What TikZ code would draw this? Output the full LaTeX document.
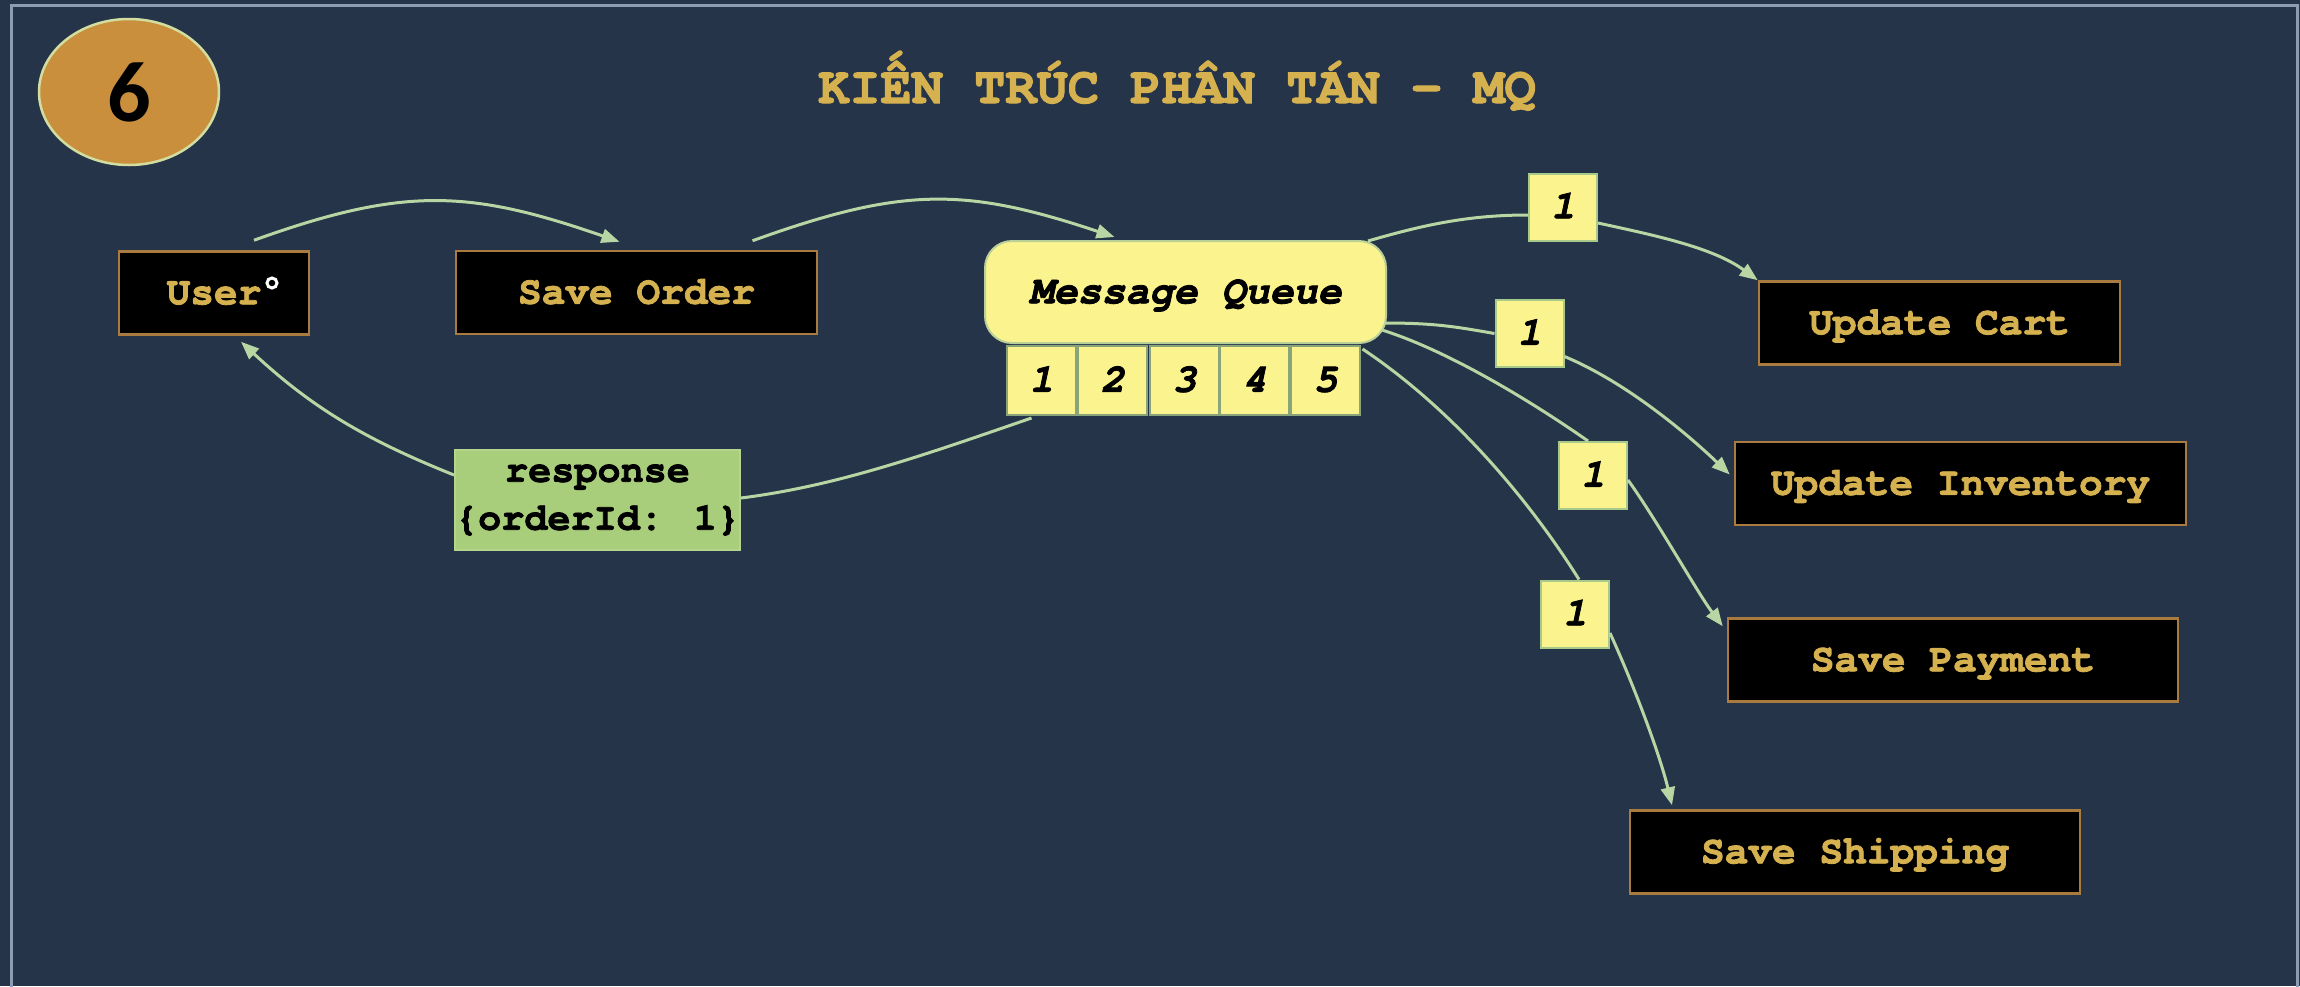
\documentclass[tikz,border=0pt]{standalone}
\usepackage{fontspec}
\usetikzlibrary{shapes.geometric,arrows.meta}
\newfontfamily\monof{texgyrecursor}[Extension=.otf,UprightFont=*-regular,BoldFont=*-bold,ItalicFont=*-italic,BoldItalicFont=*-bolditalic,BoldFeatures={FakeBold=2},BoldItalicFeatures={FakeBold=2}]
\newfontfamily\badgef{Carlito}
\definecolor{bg}{HTML}{253449}
\definecolor{framec}{HTML}{8D9CB3}
\definecolor{boxb}{HTML}{A97B3E}
\definecolor{gold}{HTML}{D5B14F}
\definecolor{yel}{HTML}{FBF48E}
\definecolor{mqb}{HTML}{B9D197}
\definecolor{cellb}{HTML}{8AA47A}
\definecolor{lblb}{HTML}{A7C98A}
\definecolor{respf}{HTML}{A9CE7B}
\definecolor{respb}{HTML}{B5D48E}
\definecolor{badgefill}{HTML}{C98F3D}
\definecolor{badgeb}{HTML}{D2DDA0}
\definecolor{arr}{HTML}{B7D6A3}
\tikzset{
  svc/.style={draw=boxb, fill=black, line width=2.5pt, minimum height=83pt, inner sep=0pt,
    text=gold, font=\monof\bfseries\fontsize{39.5}{44}\selectfont, text height=22.5pt, text depth=0pt},
  cellbox/.style={draw=cellb, fill=yel, line width=2pt, minimum width=69pt, minimum height=69pt, inner sep=0pt,
    font=\monof\bfseries\itshape\fontsize{40}{44}\selectfont, text height=22.5pt, text depth=0pt},
  numlbl/.style={draw=lblb, fill=yel, line width=2pt, minimum width=68pt, minimum height=67pt, inner sep=0pt,
    font=\monof\bfseries\itshape\fontsize{40}{44}\selectfont, text height=22.5pt, text depth=0pt},
  conn/.style={draw=arr, line width=3pt},
  tip/.style={-{Triangle[length=18pt,width=14pt]}},
}
\begin{document}
\begin{tikzpicture}[x=1pt,y=-1pt]
\useasboundingbox (0,0) rectangle (2300,986);
\fill[bg] (0,0) rectangle (2300,986);
\draw[framec, line width=3pt] (11,990) -- (11,5) -- (2297,5) -- (2297,990);

\node[ellipse, draw=badgeb, fill=badgefill, line width=2.5pt, minimum width=180pt, minimum height=146pt, inner sep=0pt,
  font=\badgef\bfseries\fontsize{86}{90}\selectfont] (badge) at (129,92) {6};
\node[anchor=base, text=gold, font=\monof\bfseries\fontsize{52}{60}\selectfont] (title) at (1177,103) {KIẾN TRÚC PHÂN TÁN - MQ};

\node[svc, minimum width=190pt] (user) at (214,293) {User};
\draw[white, line width=3pt, fill=black] (272,283) circle (5pt);
\node[svc, minimum width=361pt] (so) at (636.5,292.5) {Save Order};

\node[draw=mqb, fill=yel, line width=2pt, rounded corners=27pt, minimum width=401pt, minimum height=102pt, inner sep=0pt,
  font=\monof\bfseries\itshape\fontsize{40}{44}\selectfont, text height=22.5pt, text depth=0pt] (mq) at (1185.5,292) {Message Queue};
\node[cellbox] (c1) at (1041.5,380.5) {1};
\node[cellbox] (c2) at (1112.5,380.5) {2};
\node[cellbox] (c3) at (1184.5,380.5) {3};
\node[cellbox] (c4) at (1254.5,380.5) {4};
\node[cellbox] (c5) at (1325.5,380.5) {5};

\node[draw=respb, fill=respf, line width=2pt, minimum width=285pt, minimum height=100pt, inner sep=0pt, align=center,
  font=\monof\bfseries\fontsize{38.5}{48}\selectfont] (resp) at (597.5,500) {response\\\{orderId: 1\}};

\node[svc, minimum width=361pt] (uc) at (1939.5,323) {Update Cart};
\node[svc, minimum width=451pt] (ui) at (1960.5,483.5) {Update Inventory};
\node[svc, minimum width=450pt] (sp) at (1953,660) {Save Payment};
\node[svc, minimum width=450pt] (ss) at (1855,852) {Save Shipping};

\node[numlbl] (l1) at (1563,207) {1};
\node[numlbl] (l2) at (1529.5,333.5) {1};
\node[numlbl] (l3) at (1593,475.5) {1};
\node[numlbl] (l4) at (1575,614) {1};

% connectors
\draw[conn,tip] ([xshift=40pt,yshift=10pt]user.north) .. controls +(150,-54) and +(-150,-52) .. ([xshift=-17pt,yshift=8pt]so.north);
\draw[conn,tip] ([xshift=116pt,yshift=9pt]so.north) .. controls +(150,-54) and +(-150,-50) .. ([xshift=-71pt,yshift=3pt]mq.north);
\draw[conn] ([xshift=-10pt,yshift=-2pt]c1.south) .. controls +(-110,38) and +(95,-12) .. ([yshift=2pt]resp.east);
\draw[conn,tip] ([yshift=25pt]resp.west) .. controls +(-90,-36) and +(70,65) .. ([xshift=27pt,yshift=-6pt]user.south);

\draw[conn] ([xshift=-19pt,yshift=-1pt]mq.north east) .. controls +(55,-16) and +(-60,0) .. ([yshift=-8pt]l1.west);
\draw[conn,tip] ([yshift=-16pt]l1.east) .. controls +(55,12) and +(-45,-33) .. (uc.north west);

\draw[conn] ([xshift=-3pt,yshift=-31pt]mq.east) .. controls +(50,0) and +(-40,-7) .. (l2.west);
\draw[conn,tip] ([yshift=-23pt]l2.east) .. controls +(60,25) and +(-45,-43) .. ([xshift=-4pt,yshift=9pt]ui.west);

\draw[conn] ([xshift=-5pt,yshift=-38pt]mq.east) .. controls +(70,22) and +(-50,-35) .. ([xshift=-5pt]l3.north);
\draw[conn,tip] ([yshift=-4.5pt]l3.east) .. controls +(30,42) and +(-25,-33) .. ([xshift=-4pt,yshift=-9pt]sp.north west);

\draw[conn] ([xshift=1.5pt,yshift=-4pt]c5.north east) .. controls +(90,60) and +(-50,-80) .. ([xshift=4pt]l4.north);
\draw[conn,tip] ([yshift=-19pt]l4.east) .. controls +(25,55) and +(-12,-50) .. ([xshift=-183pt,yshift=4pt]ss.north);
\end{tikzpicture}
\end{document}
